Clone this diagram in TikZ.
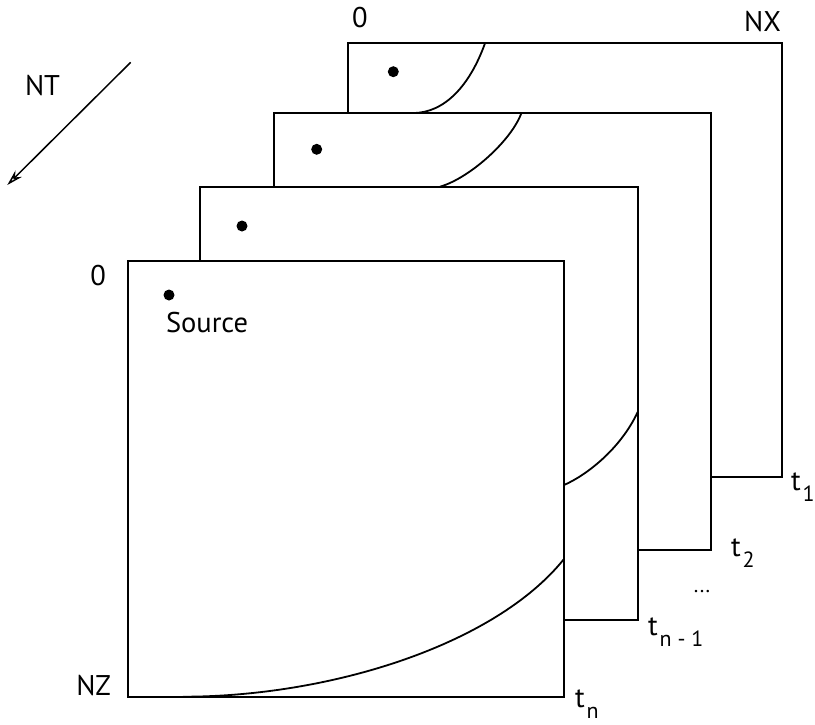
\documentclass[tikz,border=0pt]{standalone}
\usepackage{fontspec}
\setmainfont{PT Sans}
\usetikzlibrary{arrows.meta}
\newcommand{\tsb}[1]{\kern2pt\raisebox{-11pt}{\fontsize{22}{24}\selectfont #1}}
\begin{document}
\begin{tikzpicture}[x=1pt,y=-1pt,line width=2pt]
\tikzset{
  frame/.style={draw, fill=white, rectangle, inner sep=0pt, outer sep=0pt},
  srcdot/.style={circle, fill=black, draw=none, inner sep=0pt, minimum size=11pt},
  wave/.style={line width=1.8pt},
  lbl/.style={font=\fontsize{28.5}{32}\selectfont, inner sep=0pt, anchor=base west},
}
\useasboundingbox (0,0) rectangle (815,724);
% frame t1 (back)
\node[frame, minimum width=434pt, minimum height=434pt] (f1) at (564.5,260.2) {};
\draw[wave] (413,113) .. controls (445,113) and (470,85) .. (485,43.3);
\node[srcdot] (s1) at (393.3,71.7) {};
% frame t2
\node[frame, minimum width=437pt, minimum height=437pt] (f2) at (492,331.2) {};
\draw[wave] (440,186.7) .. controls (470,178) and (512,140) .. (521.7,112.3);
\node[srcdot] (s2) at (316.7,149.3) {};
% frame t_{n-1}
\node[frame, minimum width=437.7pt, minimum height=433.3pt] (f3) at (418.9,403.4) {};
\draw[wave] (564,485) .. controls (585,476) and (620,450) .. (637.7,412);
\node[srcdot] (s3) at (242,226) {};
% frame t_n (front)
\node[frame, minimum width=435.7pt, minimum height=436pt] (f4) at (346.2,478.7) {};
\draw[wave] (183,696.7) .. controls (330,696.7) and (495,645) .. (564,559);
\node[srcdot] (s4) at (169,295) {};
% NT arrow
\coordinate (a0) at (130.7,62.3);
\coordinate (a1) at (7.3,185);
\draw[line width=1.5pt, -{Stealth[length=16pt,width=9pt,open]}] (a0) -- (a1);
% labels
\node[lbl] (zx) at (351,27.3) {0};
\node[lbl, anchor=base east] (nx) at (782,31.7) {NX};
\node[lbl] (nt) at (24,95) {NT};
\node[lbl, anchor=base east] (z0) at (107,285) {0};
\node[lbl, anchor=base east] (nz) at (112,695) {NZ};
\node[lbl] (src) at (165,332) {Source};
\node[lbl] (t1) at (790,490) {t\tsb{1}};
\node[lbl] (t2) at (730,556.7) {t\tsb{2}};
\node[lbl, anchor=base] (dots) at (702,592) {\fontsize{21}{22}\selectfont ...};
\node[lbl] (tn1) at (647,635) {t\tsb{n - 1}};
\node[lbl] (tn) at (574,707) {t\tsb{n}};
\end{tikzpicture}
\end{document}
